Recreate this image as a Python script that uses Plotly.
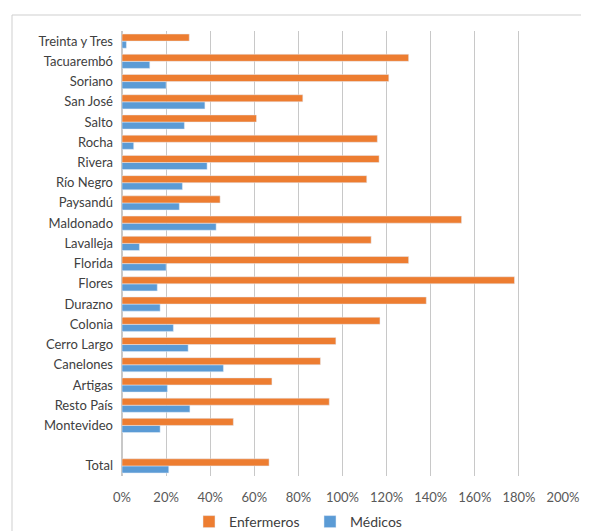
import plotly.graph_objects as go

# Categories from top to bottom (blank row separates Total)
categories = ["Treinta y Tres", "Tacuarembó", "Soriano", "San José", "Salto", "Rocha",
              "Rivera", "Río Negro", "Paysandú", "Maldonado", "Lavalleja", "Florida",
              "Flores", "Durazno", "Colonia", "Cerro Largo", "Canelones", "Artigas",
              "Resto País", "Montevideo", " ", "Total"]

enfermeros = [0.305, 1.30, 1.21, 0.82, 0.61, 1.158, 1.166, 1.11, 0.445, 1.54, 1.13, 1.30,
              1.78, 1.38, 1.17, 0.97, 0.90, 0.68, 0.94, 0.505, None, 0.667]
medicos = [0.02, 0.126, 0.20, 0.376, 0.283, 0.053, 0.386, 0.274, 0.26, 0.427, 0.079, 0.20,
           0.16, 0.173, 0.233, 0.30, 0.46, 0.206, 0.308, 0.173, None, 0.212]

x_ticks = [0, 0.2, 0.4, 0.6, 0.8, 1.0, 1.2, 1.4, 1.6, 1.8, 2.0]

ORANGE = "#ED7D31"
BLUE = "#5B9BD5"

fig = go.Figure()
fig.add_trace(go.Bar(y=categories, x=medicos, name="Médicos", orientation="h",
                     marker_color=BLUE, legendrank=2))
fig.add_trace(go.Bar(y=categories, x=enfermeros, name="Enfermeros", orientation="h",
                     marker_color=ORANGE, legendrank=1))

OFF = 8  # page offset of the figure inside the browser window
W, H = 589 - OFF, 531 - OFF
L, R, T, B = 122 - OFF, 26, 31 - OFF, 55
pw, ph = W - L - R, H - T - B

def px_x(x):
    return (x - OFF - L) / pw

def px_y(y):
    return (H - B - (y - OFF)) / ph

FONT = "Lato, 'Open Sans', sans-serif"

fig.update_layout(
    width=W, height=H,
    margin=dict(l=L, r=R, t=T, b=B, autoexpand=False),
    paper_bgcolor="white", plot_bgcolor="white",
    barmode="group", bargap=0.3, bargroupgap=0,
    font=dict(family=FONT, size=13, color="#404040"),
    showlegend=True,
    legend=dict(orientation="h", x=px_x(310), xanchor="center", y=px_y(506), yanchor="top",
                font=dict(size=14, color="#404040"), itemwidth=30, traceorder="normal",
                entrywidth=76, entrywidthmode="pixels"),
    xaxis=dict(range=[0, 2.0], tickvals=x_ticks, tickformat=".0%", showgrid=True,
               gridcolor="#c8c8c8", gridwidth=1, zeroline=True, zerolinecolor="#c8c8c8",
               showline=False, ticks="", ticklabelstandoff=12, automargin=False,
               tickfont=dict(size=13, color="#595959"), fixedrange=True),
    yaxis=dict(categoryorder="array", categoryarray=categories[::-1], type="category",
               showgrid=False, ticks="", ticklabelstandoff=8, automargin=False,
               tickfont=dict(size=13, color="#404040"), fixedrange=True),
    shapes=[dict(type="rect", xref="paper", yref="paper",
                 x0=px_x(12), x1=px_x(600), y0=px_y(545), y1=px_y(15),
                 line=dict(color="#cfcfcf", width=1), fillcolor="rgba(0,0,0,0)", layer="below")],
)

fig.write_html("out.html")
